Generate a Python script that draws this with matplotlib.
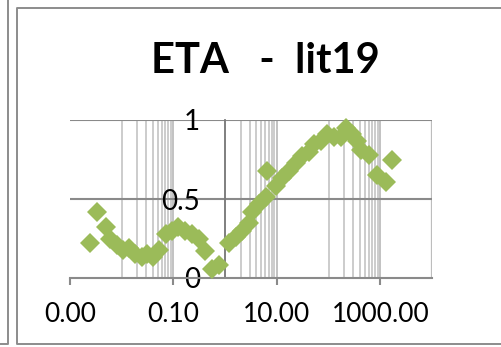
import matplotlib
matplotlib.use("Agg")
import matplotlib.pyplot as plt
from matplotlib.lines import Line2D
from matplotlib.ticker import FixedLocator, FixedFormatter, NullLocator

plt.rcParams['font.family'] = ['Lato', 'DejaVu Sans']

# Measured series: concentration (log scale) vs ETA
conc = [0.00243, 0.00331, 0.00494, 0.0059, 0.00805, 0.0105, 0.0137, 0.0179,
        0.0244, 0.0305, 0.0397, 0.0519, 0.0708, 0.0923, 0.120, 0.164, 0.224,
        0.306, 0.399, 0.569, 0.776, 1.21, 1.65, 2.15, 2.94, 3.36, 4.58, 6.25,
        6.53, 9.73, 12.7, 17.3, 23.7, 30.8, 42.1, 52.6, 71.6, 93.5, 128, 174,
        217, 284, 354, 423, 603, 859, 1282, 1675]
eta = [0.22, 0.42, 0.32, 0.25, 0.21, 0.18, 0.19, 0.15, 0.13, 0.15, 0.13, 0.18,
       0.28, 0.30, 0.32, 0.30, 0.28, 0.25, 0.17, 0.06, 0.08, 0.22, 0.26, 0.30,
       0.35, 0.42, 0.47, 0.51, 0.68, 0.58, 0.63, 0.68, 0.73, 0.77, 0.80, 0.85,
       0.87, 0.91, 0.89, 0.89, 0.95, 0.91, 0.87, 0.81, 0.78, 0.65, 0.61, 0.75]

x_major = [0.001, 0.1, 10, 1000]
x_labels = ["0.00", "0.10", "10.00", "1000.00"]
y_major = [0, 0.5, 1]
y_labels = ["0", "0.5", "1"]
title = "ETA   -  lit19"

W, H = 501, 347
fig = plt.figure(figsize=(W / 100, H / 100), dpi=100)
fig.patch.set_facecolor("white")

# chart frames
def fig_line(xs, ys, **kw):
    fig.add_artist(Line2D([x / W for x in xs], [1 - y / H for y in ys],
                          transform=fig.transFigure, **kw))

fig_line([0, 7.5, 7.5], [343.5, 343.5, 0], color="#8c8c8c", lw=1.4)
fig_line([W + 5, 16.5, 16.5, W + 5], [7.5, 7.5, 344, 344], color="#8c8c8c", lw=1.4)

left, right, top, bottom = 70, 432, 120, 278
ax = fig.add_axes([left / W, 1 - bottom / H, (right - left) / W, (bottom - top) / H])
ax.set_xscale("log")
ax.set_xlim(0.001, 10000)
ax.set_ylim(0, 1)

# vertical gridlines (multiples of 10..90 of each major)
minor_lines = []
for base in [0.001, 0.1, 10, 1000]:
    for k in range(10, 100, 10):
        v = base * k
        if v <= 10000:
            minor_lines.append(v)
for v in minor_lines:
    ax.axvline(v, color="#c4c4c4", lw=1.2, zorder=1)
for v in x_major[1:]:
    ax.axvline(v, color="#bdbdbd", lw=1.3, zorder=1)
ax.axvline(10000, color="#bdbdbd", lw=1.6, zorder=1)
for v in y_major[1:]:
    ax.axhline(v, color="#8a8a8a", lw=1.5, zorder=1.5)

for s in ["top", "right"]:
    ax.spines[s].set_visible(False)
ax.spines["bottom"].set_color("#8a8a8a")
ax.spines["bottom"].set_linewidth(1.5)
ax.spines["left"].set_position(("data", 1))
ax.spines["left"].set_color("#7a7a7a")
ax.spines["left"].set_linewidth(1.3)
ax.spines["left"].set_zorder(1.6)

ax.xaxis.set_major_locator(FixedLocator(x_major))
ax.xaxis.set_major_formatter(FixedFormatter(x_labels))
ax.xaxis.set_minor_locator(NullLocator())
ax.tick_params(axis="x", direction="out", length=5, width=1.5, color="#8a8a8a",
               pad=12, labelsize=19, labelcolor="black")

ax.yaxis.set_major_locator(FixedLocator(y_major))
ax.yaxis.set_major_formatter(FixedFormatter(y_labels))
ax.yaxis.set_minor_locator(NullLocator())
ax.tick_params(axis="y", length=0, pad=18, labelsize=20, labelcolor="black")

ax.plot(conc, eta, linestyle="none", marker="D", markersize=10.5,
        color="#9bbb59", markeredgewidth=0, clip_on=False, zorder=3)

fig.text(265 / W, 1 - 73 / H, title, ha="center", va="baseline",
         fontsize=30, fontweight="bold", color="black")

fig.savefig("out.png", dpi=100, facecolor="white")
